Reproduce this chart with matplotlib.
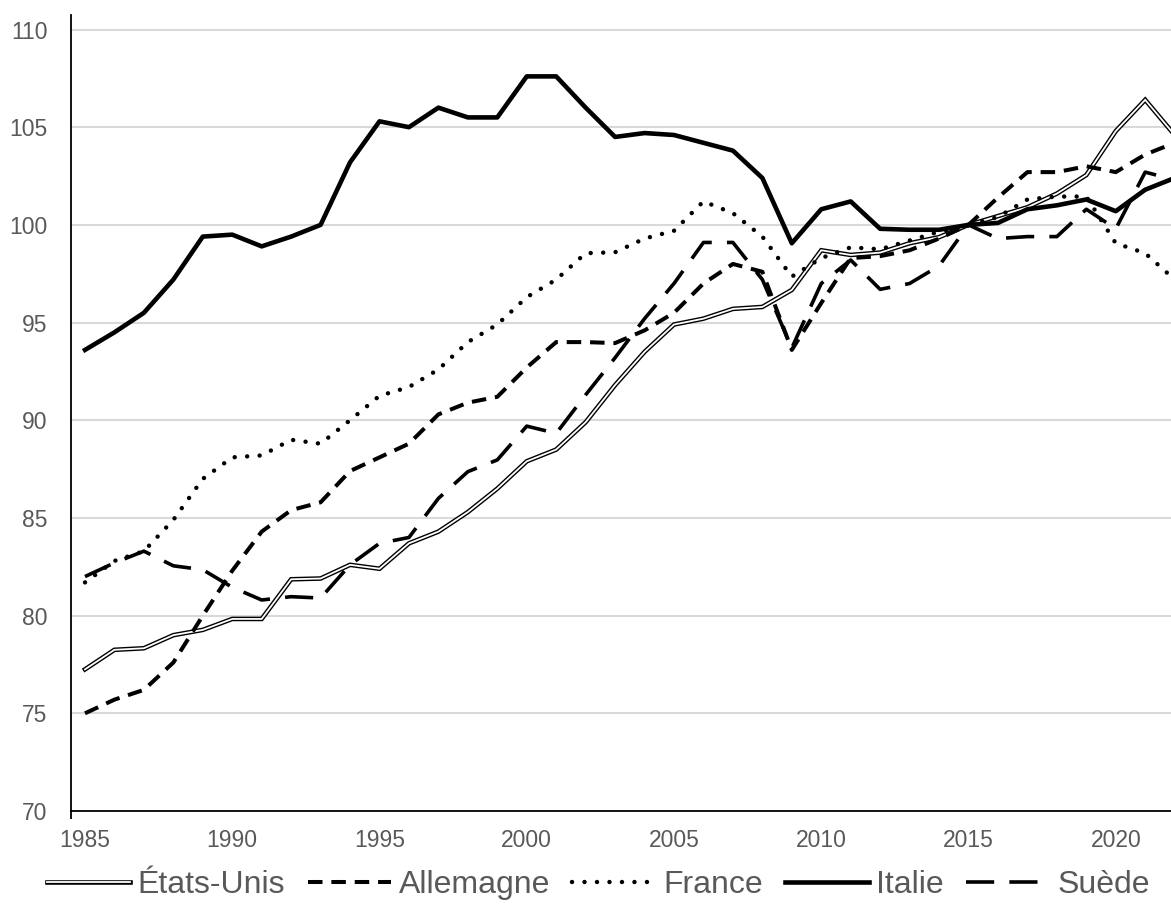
import matplotlib
matplotlib.use("Agg")
import matplotlib.pyplot as plt

plt.rcParams['font.family'] = ['Liberation Sans', 'DejaVu Sans']

years = list(range(1985, 2023))

etats_unis = [77.25, 78.25, 78.33, 79.0, 79.27, 79.83, 79.83, 81.86, 81.9, 82.6,
              82.4, 83.7, 84.3, 85.3, 86.5, 87.9, 88.5, 89.9, 91.8, 93.5,
              94.9, 95.2, 95.7, 95.8, 96.67, 98.7, 98.46, 98.58, 99.06, 99.37,
              100.0, 100.45, 100.9, 101.6, 102.55, 104.8, 106.4, 104.6]
allemagne = [75.0, 75.7, 76.2, 77.6, 80.0, 82.3, 84.3, 85.4, 85.8, 87.4,
             88.1, 88.8, 90.3, 90.9, 91.2, 92.7, 94.0, 94.0, 93.95, 94.6,
             95.5, 97.0, 98.0, 97.6, 93.6, 96.0, 98.3, 98.4, 98.7, 99.3,
             100.0, 101.4, 102.7, 102.7, 103.0, 102.7, 103.6, 104.2]
france = [81.7, 82.8, 83.3, 84.9, 87.0, 88.1, 88.2, 89.0, 88.8, 90.0,
          91.25, 91.7, 92.6, 94.0, 94.9, 96.3, 97.2, 98.55, 98.6, 99.3,
          99.7, 101.2, 100.6, 99.4, 97.35, 98.3, 98.85, 98.75, 99.2, 99.65,
          100.0, 100.4, 101.3, 101.45, 101.45, 99.06, 98.55, 97.2]
italie = [93.6, 94.5, 95.5, 97.2, 99.4, 99.5, 98.9, 99.4, 100.0, 103.2,
          105.3, 105.0, 106.0, 105.5, 105.5, 107.6, 107.6, 106.0, 104.5, 104.7,
          104.6, 104.2, 103.8, 102.4, 99.06, 100.8, 101.2, 99.8, 99.75, 99.75,
          100.0, 100.1, 100.8, 101.0, 101.3, 100.7, 101.8, 102.4]
suede = [82.0, 82.7, 83.3, 82.55, 82.35, 81.45, 80.8, 80.97, 80.9, 82.6,
         83.7, 84.0, 86.0, 87.37, 87.97, 89.7, 89.33, 91.3, 93.2, 95.2,
         97.0, 99.1, 99.1, 97.2, 93.7, 97.0, 98.2, 96.7, 97.0, 97.9,
         100.0, 99.3, 99.4, 99.4, 100.8, 99.8, 102.7, 102.3]

labels = ["États-Unis", "Allemagne", "France", "Italie", "Suède"]
xtick_vals = [1985, 1990, 1995, 2000, 2005, 2010, 2015, 2020]
ytick_vals = [70, 75, 80, 85, 90, 95, 100, 105, 110]

W, H = 1171, 916
fig = plt.figure(figsize=(W / 100, H / 100), dpi=100)
left_px, right_px, top_px, bot_px = 71, 1171, 15, 811
ax = fig.add_axes([left_px / W, 1 - bot_px / H, (right_px - left_px) / W, (bot_px - top_px) / H])

px_per_year = 29.45
x_left = 1985 - (85 - left_px) / px_per_year
x_right = 1985 + (right_px - 85) / px_per_year
ax.set_xlim(x_left, x_right)
ppu = (811 - 29.5) / 40.0
ax.set_ylim(70, 110 + (29.5 - top_px) / ppu)

# grid
for v in ytick_vals[1:]:
    ax.axhline(v, color='#d9d9d9', lw=1.5, zorder=0)

# US double line
us_out, = ax.plot(years, etats_unis, color='black', lw=3.3, solid_joinstyle='miter', zorder=3)
us_in, = ax.plot(years, etats_unis, color='white', lw=1.3, solid_joinstyle='miter', zorder=3.1)
# Germany short dash
de, = ax.plot(years, allemagne, color='black', lw=2.9, dashes=(3.6, 2.2), zorder=4)
# France dotted
fr, = ax.plot(years, france, color='black', lw=3.2, dashes=(0.01, 2.8),
              dash_capstyle='round', zorder=4)
# Italy solid
it, = ax.plot(years, italie, color='black', lw=3.3, zorder=4)
# Sweden long dash
se, = ax.plot(years, suede, color='black', lw=2.6, dashes=(7.8, 4.2), zorder=4)

for s in ['top', 'right']:
    ax.spines[s].set_visible(False)
ax.spines['left'].set_linewidth(1.3)
ax.spines['bottom'].set_linewidth(1.3)

ax.set_xticks(xtick_vals)
ax.set_xticklabels([str(v) for v in xtick_vals])
ax.set_yticks(ytick_vals)
ax.set_yticklabels([str(v) for v in ytick_vals])
ax.tick_params(axis='both', length=0, labelsize=16.5, labelcolor='#595959')
ax.tick_params(axis='x', pad=13)
ax.tick_params(axis='y', pad=17)
ax.set_xticks([x_left + 0.01], minor=True)
ax.tick_params(axis='x', which='minor', length=6, width=1.3, direction='out', color='black')

leg = fig.legend([(us_out, us_in), de, fr, it, se], labels,
                 loc='center', bbox_to_anchor=(0.511, 1 - 885 / H), ncol=5,
                 frameon=False, fontsize=23, handlelength=2.6, handletextpad=0.25,
                 columnspacing=0.7, labelcolor='#595959')

fig.savefig('out.png', dpi=100)
